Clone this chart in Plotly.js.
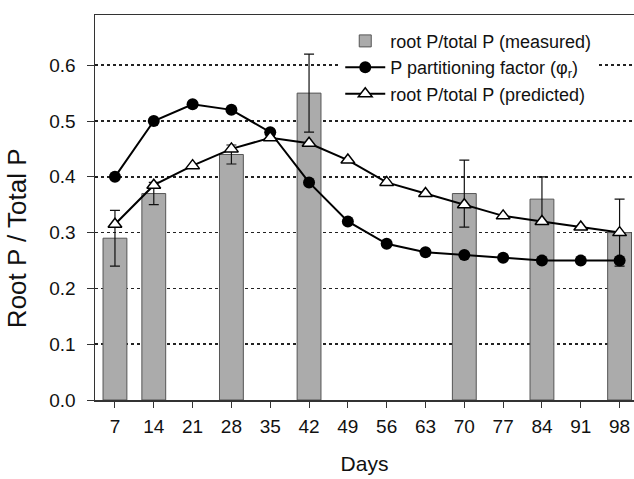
<!DOCTYPE html>
<html><head><meta charset="utf-8">
<script src="https://cdn.plot.ly/plotly-3.0.1.min.js"></script>
<style>html,body{margin:0;padding:0;background:#fff;}#chart{width:634px;height:479px;}</style>
</head><body><div id="chart"></div>
<script>
const days = [7,14,21,28,35,42,49,56,63,70,77,84,91,98];
const measuredDays = [7,14,28,42,70,84,98];
const measured = [0.29,0.37,0.44,0.55,0.37,0.36,0.30];
const measuredErr = [0.05,0.02,0.017,0.07,0.06,0.04,0.06];
const phiR = [0.40,0.50,0.53,0.52,0.48,0.39,0.32,0.28,0.265,0.26,0.255,0.25,0.25,0.25];
const predicted = [0.315,0.385,0.42,0.45,0.47,0.46,0.43,0.39,0.37,0.35,0.33,0.32,0.31,0.30];
const tickLabels = days.map(String);
const yTickVals = [0,0.1,0.2,0.3,0.4,0.5,0.6];
const yTickText = ['0.0','0.1','0.2','0.3','0.4','0.5','0.6'];

const traces = [
  {type:'bar', x:measuredDays, y:measured, width:4.3, name:'root P/total P (measured)',
   marker:{color:'#ababab', line:{color:'#555', width:1}},
   error_y:{type:'data', array:measuredErr, visible:true, color:'#111', thickness:1.2, width:5}},
  {type:'scatter', mode:'lines+markers', x:days, y:phiR, name:'P partitioning factor (φ<sub>r</sub>)',
   line:{color:'#000', width:2}, marker:{symbol:'circle', size:12, color:'#000'}},
  {type:'scatter', mode:'lines+markers', x:days, y:predicted, name:'root P/total P (predicted)',
   line:{color:'#000', width:2}, marker:{symbol:'triangle-up', size:12, color:'#fff', line:{color:'#000', width:1.5}}}
];

const layout = {
  width:634, height:479,
  margin:{l:95, r:0, t:15, b:79},
  paper_bgcolor:'#fff', plot_bgcolor:'#fff',
  font:{family:'Liberation Sans, Arial, sans-serif', color:'#111'},
  showlegend:true,
  legend:{x:0.455, y:0.98, xanchor:'left', yanchor:'top', bgcolor:'#fff', borderwidth:0,
          font:{size:18, color:'#111'}, tracegroupgap:0, itemwidth:40},
  xaxis:{range:[3.4,100.6], tickmode:'array', tickvals:days, ticktext:tickLabels,
         ticks:'outside', ticklen:6, tickcolor:'#333', showline:true, linecolor:'#333', linewidth:1.5,
         mirror:true, showgrid:false, zeroline:false, tickfont:{size:19}, ticklabelstandoff:3,
         title:{text:'Days', font:{size:21}, standoff:20}},
  yaxis:{range:[0,0.69], tickmode:'array', tickvals:yTickVals, ticktext:yTickText,
         ticks:'outside', ticklen:7, tickcolor:'#333', showline:true, linecolor:'#333', linewidth:1.5,
         showgrid:true, gridcolor:'#222', griddash:'dot', gridwidth:1.5, zeroline:false,
         tickfont:{size:19}, ticklabelstandoff:7},
  annotations:[{text:'Root P / Total P', textangle:-90, xref:'paper', yref:'paper',
                x:-0.145, y:0.42, xanchor:'center', yanchor:'middle', showarrow:false,
                font:{size:26, color:'#111'}}]
};
Plotly.newPlot('chart', traces, layout, {displayModeBar:false, staticPlot:true});
</script></body></html>
